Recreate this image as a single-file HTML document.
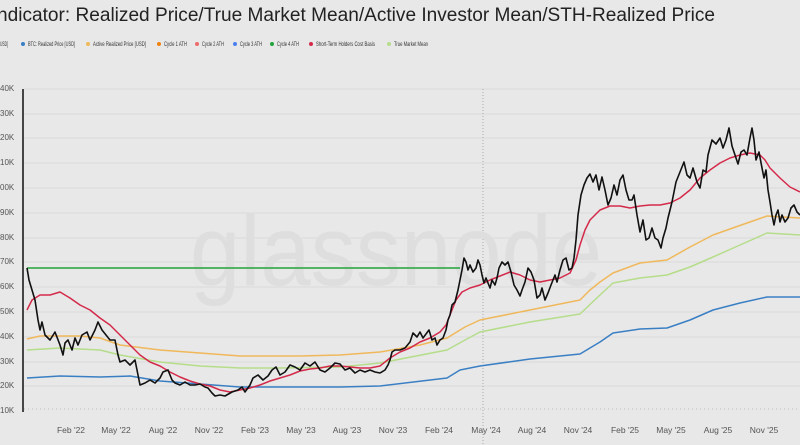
<!DOCTYPE html><html><head><meta charset="utf-8"><style>
body{margin:0;background:#e8e8e8;width:800px;height:445px;overflow:hidden;font-family:"Liberation Sans",sans-serif}
</style></head><body>
<svg width="800" height="445" xmlns="http://www.w3.org/2000/svg" style="position:absolute;left:0;top:0">
<rect width="800" height="445" fill="#e8e8e8"/>
<text x="-3" y="21" font-size="19" fill="#222" textLength="718" lengthAdjust="spacingAndGlyphs">ndicator: Realized Price/True Market Mean/Active Investor Mean/STH-Realized Price</text>
<g font-size="6" fill="#333" lengthAdjust="spacingAndGlyphs">
<text x="0" y="46" textLength="8" lengthAdjust="spacingAndGlyphs">USD]</text>
<circle cx="23" cy="44" r="2" fill="#3a7fc4"/><text x="28" y="46" textLength="47" lengthAdjust="spacingAndGlyphs">BTC: Realized Price [USD]</text>
<circle cx="88" cy="44" r="2" fill="#f0b85a"/><text x="93" y="46" textLength="53" lengthAdjust="spacingAndGlyphs">Active Realized Price [USD]</text>
<circle cx="159" cy="44" r="2" fill="#f0820f"/><text x="164" y="46" textLength="23" lengthAdjust="spacingAndGlyphs">Cycle 1 ATH</text>
<circle cx="197" cy="44" r="2" fill="#ef6a6a"/><text x="202" y="46" textLength="22" lengthAdjust="spacingAndGlyphs">Cycle 2 ATH</text>
<circle cx="235" cy="44" r="2" fill="#4a7ff0"/><text x="240" y="46" textLength="22" lengthAdjust="spacingAndGlyphs">Cycle 3 ATH</text>
<circle cx="272" cy="44" r="2" fill="#22a33a"/><text x="277" y="46" textLength="22" lengthAdjust="spacingAndGlyphs">Cycle 4 ATH</text>
<circle cx="311" cy="44" r="2" fill="#d42a4a"/><text x="316" y="46" textLength="59" lengthAdjust="spacingAndGlyphs">Short-Term Holders Cost Basis</text>
<circle cx="389" cy="44" r="2" fill="#b5dd8a"/><text x="394" y="46" textLength="34" lengthAdjust="spacingAndGlyphs">True Market Mean</text>
</g>
<g stroke="#dadada" stroke-width="1">
<line x1="24" x2="800" y1="89" y2="89"/><line x1="24" x2="800" y1="114" y2="114"/><line x1="24" x2="800" y1="138" y2="138"/><line x1="24" x2="800" y1="163" y2="163"/><line x1="24" x2="800" y1="188" y2="188"/><line x1="24" x2="800" y1="213" y2="213"/><line x1="24" x2="800" y1="238" y2="238"/><line x1="24" x2="800" y1="262" y2="262"/><line x1="24" x2="800" y1="287" y2="287"/><line x1="24" x2="800" y1="312" y2="312"/><line x1="24" x2="800" y1="337" y2="337"/><line x1="24" x2="800" y1="362" y2="362"/><line x1="24" x2="800" y1="386" y2="386"/>
</g>
<line x1="24" x2="800" y1="409" y2="409" stroke="#bbb" stroke-dasharray="1,3"/>
<line x1="483" x2="483" y1="89" y2="445" stroke="#aaa" stroke-dasharray="1,2"/>
<text x="190" y="285" font-size="100" fill="#dedede" textLength="412" lengthAdjust="spacingAndGlyphs">glassnode</text>
<g font-size="8" fill="#555">
<text x="0" y="91">40K</text><text x="0" y="116">30K</text><text x="0" y="140">20K</text><text x="0" y="165">10K</text><text x="0" y="190">00K</text><text x="0" y="215">90K</text><text x="0" y="240">80K</text><text x="0" y="264">70K</text><text x="0" y="289">60K</text><text x="0" y="314">50K</text><text x="0" y="339">40K</text><text x="0" y="364">30K</text><text x="0" y="388">20K</text><text x="0" y="413">10K</text>
</g>
<g font-size="8.5" fill="#555" text-anchor="middle">
<text x="71" y="433">Feb '22</text><text x="116" y="433">May '22</text><text x="163" y="433">Aug '22</text><text x="209" y="433">Nov '22</text><text x="255" y="433">Feb '23</text><text x="301" y="433">May '23</text><text x="347" y="433">Aug '23</text><text x="393" y="433">Nov '23</text><text x="439" y="433">Feb '24</text><text x="486" y="433">May '24</text><text x="532" y="433">Aug '24</text><text x="578" y="433">Nov '24</text><text x="625" y="433">Feb '25</text><text x="671" y="433">May '25</text><text x="718" y="433">Aug '25</text><text x="764" y="433">Nov '25</text><text x="805" y="433">F</text>
</g>
<line x1="23" x2="23" y1="89" y2="412" stroke="#111" stroke-width="1.5"/>
<line x1="27" x2="460" y1="268" y2="268" stroke="#22a33a" stroke-width="1.5"/>
<g fill="none" stroke-width="1.5" stroke-linejoin="round">
<polyline stroke="#3a7fc4" points="27,378 60,376 100,377 130,376 160,381 200,384 240,387 280,387 340,387 380,386 447,378 460,370 480,366 530,359 580,354 600,342 613,333 640,329 667,328 690,320 713,310 740,303 767,297 800,297"/>
<polyline stroke="#b5dd8a" points="27,350 60,348 100,350 120,355 160,362 200,366 240,368 280,368 340,367 380,363 447,350 465,340 480,332 530,322 580,314 600,295 613,283 640,278 667,275 690,267 713,257 740,245 767,233 800,235"/>
<polyline stroke="#f0b85a" points="27,339 40,336 80,336 100,338 120,345 160,350 200,353 240,356 300,356 340,355 380,352 420,345 447,338 465,327 480,320 530,310 580,300 590,290 600,282 613,273 640,263 667,260 690,247 713,235 747,223 767,216 800,218"/>
<polyline stroke="#d42a4a" points="27,310 32,300 40,295 50,295 60,292 70,298 80,305 90,310 100,318 110,325 120,335 130,345 140,355 150,362 160,366 170,372 180,377 190,381 200,384 210,386 220,390 230,392 240,390 250,388 260,385 270,381 280,378 290,375 300,371 310,369 320,368 330,366 340,366 350,367 360,368 370,368 380,366 390,358 400,352 410,348 420,342 430,338 440,332 446,325 452,310 456,300 462,292 470,288 480,285 490,280 500,276 510,272 520,275 530,280 540,282 550,280 560,278 570,273 576,260 580,245 585,230 590,220 600,210 610,206 620,206 630,208 640,206 650,205 660,205 670,203 680,198 690,190 700,178 710,170 720,163 730,158 740,155 750,153 760,155 765,160 770,168 780,178 790,187 800,192"/>
<polyline stroke="#111" stroke-width="1.6" points="27,268 29,280 32,290 35,300 38,320 40,330 42,322 45,335 50,340 55,332 60,345 63,355 65,343 68,340 72,350 75,338 78,345 82,335 87,332 90,340 95,330 98,322 102,330 106,335 110,340 115,340 118,355 120,362 125,360 130,365 135,360 138,375 140,385 145,383 150,380 155,383 160,378 163,372 168,370 172,380 175,383 180,385 185,382 190,385 195,385 200,384 205,387 208,388 212,393 215,396 220,395 225,396 232,392 238,390 242,387 245,392 250,385 253,378 258,375 263,380 268,376 272,370 276,367 280,375 285,372 290,365 295,367 300,370 305,363 310,366 315,362 320,370 325,372 330,368 335,363 340,364 345,370 350,368 355,373 360,370 365,372 370,370 375,372 380,373 385,370 388,365 390,360 392,352 395,350 400,350 405,348 410,342 413,333 417,337 420,332 423,338 426,334 429,330 432,340 435,338 437,345 440,340 443,338 446,330 448,320 450,315 452,305 455,302 458,290 460,280 462,270 464,258 466,262 468,270 470,265 473,272 476,268 478,260 480,265 482,275 484,283 486,278 490,288 492,280 495,285 497,278 499,268 502,262 505,265 508,262 511,272 514,285 517,290 520,296 522,290 525,282 528,268 531,272 534,280 537,298 540,295 542,288 545,300 548,293 551,285 555,275 557,282 560,270 563,260 566,258 569,270 572,268 574,258 576,240 578,215 581,195 584,185 587,178 590,174 593,182 596,175 599,190 602,177 605,190 608,205 611,198 614,185 617,195 620,180 623,175 626,190 629,200 632,200 634,195 637,215 640,232 643,220 646,240 649,238 652,228 655,238 658,240 661,248 663,238 666,228 668,218 672,202 676,182 680,172 684,162 687,175 690,178 693,168 697,182 700,188 703,170 706,172 708,155 712,140 716,144 720,138 723,148 726,140 729,128 732,146 735,155 738,164 741,152 744,150 747,155 750,138 752,128 754,140 756,160 759,152 762,168 764,178 766,170 768,190 770,202 772,215 774,225 776,215 778,210 780,222 782,215 785,222 788,218 791,208 794,205 797,212 800,215"/>
</g>
</svg>
</body></html>
